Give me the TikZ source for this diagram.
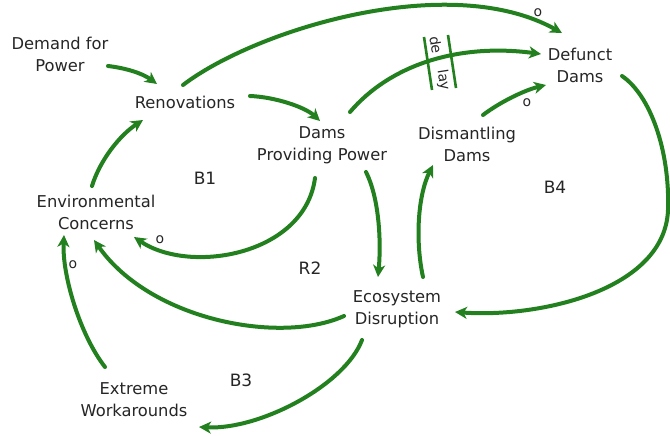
\documentclass[tikz,border=0pt]{standalone}
\usepackage{fontspec}
\setmainfont{DejaVu Sans}
\usetikzlibrary{arrows.meta,calc}
\definecolor{cldgreen}{RGB}{34,128,30}
\begin{document}
\begin{tikzpicture}[x=1pt,y=-1pt,
  var/.style={align=center,inner sep=0pt,text=black!85,font=\fontsize{16.3}{22}\selectfont},
  looplbl/.style={inner sep=0pt,text=black!85,font=\fontsize{17}{20}\selectfont},
  pol/.style={inner sep=0pt,text=black!85,font=\fontsize{14}{15}\selectfont},
  link/.style={draw=cldgreen,line width=4pt,line cap=round,-{Stealth[length=12pt,width=12pt,inset=3.5pt]}},
  dmark/.style={draw=cldgreen,line width=2.6pt}]
\useasboundingbox (0,0) rectangle (670,436);
\fill[white] (0,0) rectangle (670,436);
% variables
\node[var] (dem) at (60,54) {Demand for\\Power};
\node[var] (ren) at (185,102) {Renovations};
\node[var] (dpp) at (322,145) {Dams\\Providing Power};
\node[var] (dis) at (467,144) {Dismantling\\Dams};
\node[var] (def) at (580,65) {Defunct\\Dams};
\node[var] (env) at (96,212) {Environmental\\Concerns};
\node[var] (eco) at (397,309) {Ecosystem\\Disruption};
\node[var] (ext) at (134,400) {Extreme\\Workarounds};
% loop labels
\node[looplbl] (b1) at (205,178) {B1};
\node[looplbl] (r2) at (310,268) {R2};
\node[looplbl] (b4) at (555,187) {B4};
\node[looplbl] (b3) at (241,380) {B3};
% links
\draw[link] ([shift={(48,12)}]dem.center) .. controls +(17,2) and +(-15,-11) .. ([shift={(-28,-18)}]ren.center);
\draw[link] ([shift={(65,-6)}]ren.center) .. controls +(25,1) and +(-15,-14) .. ([shift={(-2,-24)}]dpp.center);
\draw[link] ([shift={(-2,-17)}]ren.center) .. controls +(72,-55) and +(-113,-63) .. ([shift={(-18,-32)}]def.center);
\node[pol] (o1) at (538,13) {o};
\draw[link] ([shift={(28,-33)}]dpp.center) .. controls +(40,-47) and +(-83,-11) .. ([shift={(-39,-11)}]def.center);
\draw[link] ([shift={(16,-29)}]dis.center) .. controls +(17,-13) and +(-21,5) .. ([shift={(-34,20)}]def.center);
\node[pol] (o2) at (527,103) {o};
\coordinate (rbend) at (668,210);
\draw[link] ([shift={(42,11)}]def.center) .. controls +(28,19) and +(2,-60) .. (rbend)
  .. controls +(-3,80) and +(85,6) .. ([shift={(58,3)}]eco.center);
\draw[link] ([shift={(44,27)}]dpp.center) .. controls +(14,28) and +(3,-32) .. ([shift={(-19,-32)}]eco.center);
\draw[link] ([shift={(26,-32)}]eco.center) .. controls +(-8,-37) and +(-15,30) .. ([shift={(-34,21)}]dis.center);
\draw[link] ([shift={(-7,33)}]dpp.center) .. controls +(-10,77) and +(56,38) .. ([shift={(38,25)}]env.center);
\node[pol] (o3) at (160,240) {o};
\draw[link] ([shift={(-53,7)}]eco.center) .. controls +(-64,29) and +(56,80) .. ([shift={(-2,28)}]env.center);
\draw[link] ([shift={(-35,31)}]eco.center) .. controls +(-17,45) and +(61,3) .. ([shift={(65,27)}]ext.center);
\draw[link] ([shift={(-29,-33)}]ext.center) .. controls +(-25,-32) and +(-2,40) .. ([shift={(-32,23)}]env.center);
\node[pol] (o4) at (73,265) {o};
\draw[link] ([shift={(-4,-26)}]env.center) .. controls +(8,-26) and +(-23,15) .. ([shift={(-42,18)}]ren.center);
% delay mark
\draw[dmark] (424,37) -- (432,90);
\draw[dmark] (448,35) -- (456,88);
\node[pol,rotate=-81] (dly1) at (436,45) {de};
\node[pol,rotate=-81] (dly2) at (443,80) {lay};
\end{tikzpicture}
\end{document}
